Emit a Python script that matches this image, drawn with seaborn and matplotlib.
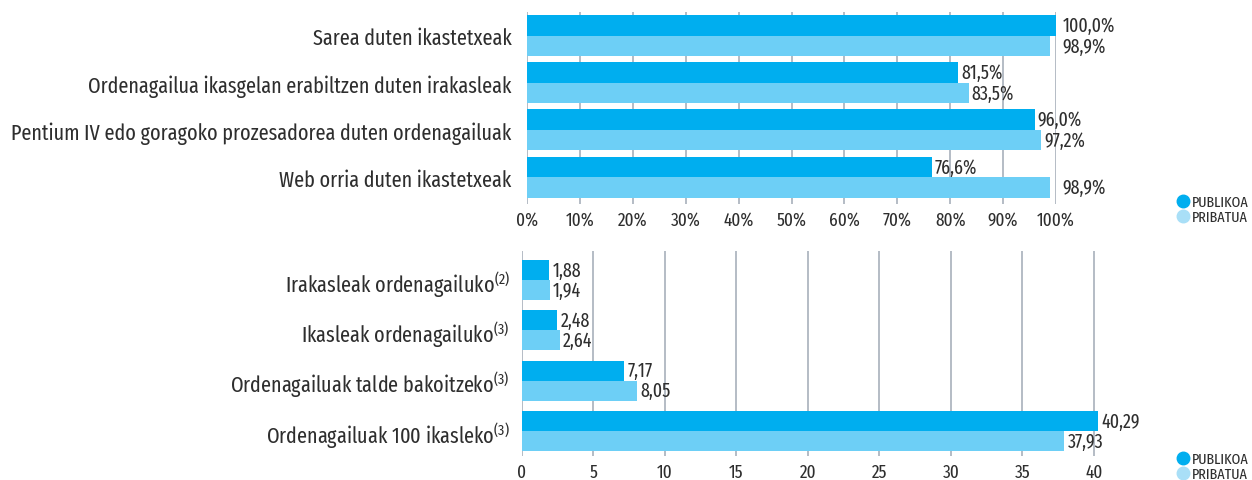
import numpy as np
import pandas as pd
import matplotlib
matplotlib.use("Agg")
import matplotlib.pyplot as plt
import seaborn as sns
from matplotlib.lines import Line2D

sns.set_theme(style="white")
font_list = ['Fira Sans Extra Condensed', 'Fira Sans Condensed', 'Roboto Condensed',
             'Liberation Sans Narrow', 'DejaVu Sans']
plt.rcParams['font.family'] = font_list
plt.rcParams['font.weight'] = 400
plt.rcParams['mathtext.fontset'] = 'custom'
plt.rcParams['mathtext.rm'] = 'Fira Sans Extra Condensed'
plt.rcParams['mathtext.default'] = 'regular'

# data
sectors = ["PUBLIKOA", "PRIBATUA"]
top_cats = ["Sarea duten ikastetxeak",
            "Ordenagailua ikasgelan erabiltzen duten irakasleak",
            "Pentium IV edo goragoko prozesadorea duten ordenagailuak",
            "Web orria duten ikastetxeak"]
top_pub = [100.0, 81.5, 96.0, 76.6]
top_priv = [98.9, 83.5, 97.2, 98.9]
bot_cats = ["Irakasleak ordenagailuko$^{(2)}$",
            "Ikasleak ordenagailuko$^{(3)}$",
            "Ordenagailuak talde bakoitzeko$^{(3)}$",
            "Ordenagailuak 100 ikasleko$^{(3)}$"]
bot_pub = [1.88, 2.48, 7.17, 40.29]
bot_priv = [1.94, 2.64, 8.05, 37.93]
top_ticks = [0, 10, 20, 30, 40, 50, 60, 70, 80, 90, 100]
bot_ticks = [0, 5, 10, 15, 20, 25, 30, 35, 40]

bar_colors = ["#00AEEF", "#6DCFF6"]
legend_colors = ["#00AEEF", "#A9DFF7"]
text_color = "#2E2E2E"
grid_color = "#B4BCC5"

def long_df(cats, pub, priv):
    return pd.DataFrame({
        "cat": cats * 2,
        "val": pub + priv,
        "sector": [sectors[0]] * len(cats) + [sectors[1]] * len(cats),
    })

fig = plt.figure(figsize=(12.52, 4.81), dpi=100)
ax1 = fig.add_axes([527 / 1252, 1 - 205 / 481, 529 / 1252, 192 / 481])
ax2 = fig.add_axes([522 / 1252, 1 - 457 / 481, 586 / 1252, 205 / 481])

sns.barplot(data=long_df(top_cats, top_pub, top_priv), y="cat", x="val",
            hue="sector", palette=bar_colors, orient="h", width=0.87,
            saturation=1, linewidth=0, ax=ax1, legend=False)
sns.barplot(data=long_df(bot_cats, bot_pub, bot_priv), y="cat", x="val",
            hue="sector", palette=bar_colors, orient="h", width=0.8,
            saturation=1, linewidth=0, ax=ax2, legend=False)

ax1.set_xlim(0, 100)
ax1.set_ylim(3.57, -0.5)
ax1.set_xticks(top_ticks)
ax1.set_xticklabels([f"{t}%" for t in top_ticks])
ax2.set_xlim(0, 41)
ax2.set_ylim(3.5, -0.58)
ax2.set_xticks(bot_ticks)

for ax, ypad in ((ax1, 11), (ax2, 9)):
    ax.set_xlabel("")
    ax.set_ylabel("")
    for s in ax.spines.values():
        s.set_visible(False)
    ax.grid(axis="x", color=grid_color, lw=1.4)
    ax.grid(axis="y", visible=False)
    ax.set_axisbelow(True)
    ax.tick_params(axis="x", length=0, pad=5, labelsize=13.5, labelcolor=text_color)
    ax.tick_params(axis="y", length=0, pad=ypad, labelsize=15.8, labelcolor=text_color)

# value labels
for cont, vals in zip(ax1.containers, (top_pub, top_priv)):
    anns = ax1.bar_label(cont, labels=[f"{v:.1f}%".replace(".", ",") for v in vals],
                         padding=2, fontsize=14, color=text_color)
    for a, v in zip(anns, vals):
        if v >= 98:
            a.xy = (100, a.xy[1])
            a.set_position((4.5, 0))

for cont, vals in zip(ax2.containers, (bot_pub, bot_priv)):
    ax2.bar_label(cont, labels=[f"{v:.2f}".replace(".", ",") for v in vals],
                  padding=2.5, fontsize=14, color=text_color)

# legends
handles = [Line2D([], [], marker="o", ls="", markersize=9, color=c) for c in legend_colors]
for y in (1 - 188 / 481, 1 - 445 / 481):
    fig.legend(handles, sectors, loc="upper left", bbox_to_anchor=(1167 / 1252, y),
               frameon=False, fontsize=11, handletextpad=0.05, labelspacing=0.05,
               borderpad=0, handlelength=1.1, labelcolor=text_color)

fig.savefig("out.png", dpi=100)
